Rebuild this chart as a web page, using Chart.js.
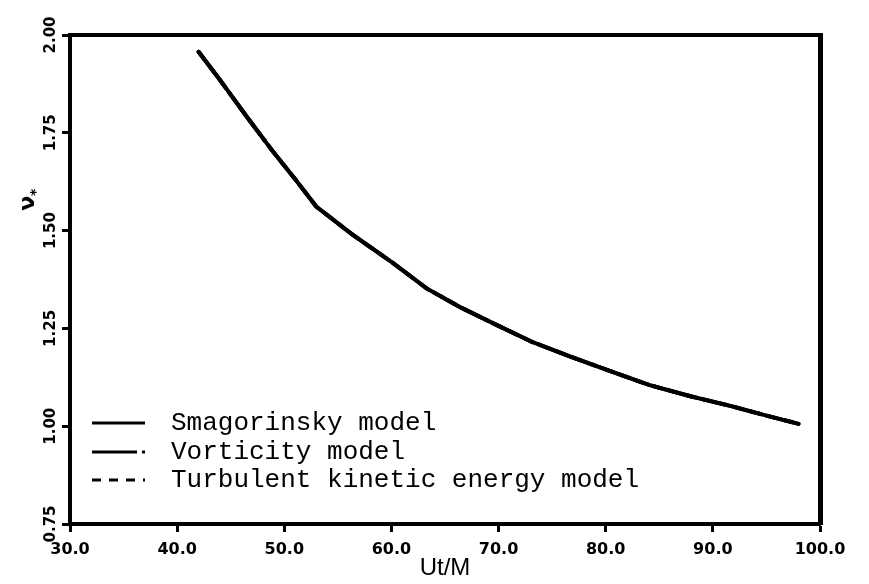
<!DOCTYPE html>
<html>
<head>
<meta charset="utf-8">
<script src="https://cdn.jsdelivr.net/npm/chart.js@4/dist/chart.umd.min.js"></script>
<style>
  html, body { margin: 0; padding: 0; background: #fff; }
  #wrap { width: 869px; height: 584px; }
</style>
</head>
<body>
<div id="wrap"><canvas id="c" width="869" height="584"></canvas></div>
<script>
// Eddy viscosity decay versus non-dimensional time Ut/M
const utM = [42.0, 44.0, 46.5, 49.0, 51.2, 53.0, 56.4, 60.0, 63.3, 66.5, 69.8, 73.0, 76.7, 80.5, 84.1, 88.0, 91.9, 95.0, 98.0];
const smagorinsky = [1.957, 1.885, 1.791, 1.700, 1.625, 1.561, 1.489, 1.420, 1.352, 1.303, 1.259, 1.217, 1.178, 1.140, 1.105, 1.076, 1.050, 1.027, 1.006];
const vorticity   = [1.957, 1.885, 1.791, 1.700, 1.625, 1.561, 1.489, 1.420, 1.352, 1.303, 1.259, 1.217, 1.178, 1.140, 1.105, 1.076, 1.050, 1.027, 1.006];
const turbulentKE = [1.957, 1.885, 1.791, 1.700, 1.625, 1.561, 1.489, 1.420, 1.352, 1.303, 1.259, 1.217, 1.178, 1.140, 1.105, 1.076, 1.050, 1.027, 1.006];
const seriesNames = ['Smagorinsky model', 'Vorticity model', 'Turbulent kinetic energy model'];
const xTicks = [30, 40, 50, 60, 70, 80, 90, 100];
const yTicks = [0.75, 1.00, 1.25, 1.50, 1.75, 2.00];

const pairs = (ys) => utM.map((x, i) => ({ x: x, y: ys[i] }));

const lineStyle = {
  borderColor: '#000',
  borderWidth: 4,
  pointRadius: 0,
  tension: 0,
  fill: false,
  borderCapStyle: 'round',
  borderJoinStyle: 'round'
};

// Legend drawn inside the lower-left corner of the plot box
const innerLegend = {
  id: 'innerLegend',
  afterDatasetsDraw(chart) {
    const { ctx, chartArea } = chart;
    const rows = [101, 72, 44];
    ctx.save();
    chart.data.datasets.forEach((ds, i) => {
      const y = chartArea.bottom - rows[i];
      const x0 = chartArea.left + 22;
      ctx.beginPath();
      ctx.setLineDash(ds.borderDash || []);
      ctx.lineWidth = 3;
      ctx.strokeStyle = '#000';
      ctx.moveTo(x0, y);
      ctx.lineTo(x0 + 53, y);
      ctx.stroke();
      ctx.setLineDash([]);
      ctx.fillStyle = '#000';
      ctx.font = '26px "Liberation Mono", monospace';
      ctx.textAlign = 'left';
      ctx.textBaseline = 'middle';
      ctx.fillText(ds.label, chartArea.left + 101, y);
    });
    ctx.restore();
  }
};

// Rotated y-axis symbol with subscript asterisk
const yAxisSymbol = {
  id: 'yAxisSymbol',
  afterDraw(chart) {
    const { ctx, chartArea } = chart;
    const ys = chart.scales.y;
    ctx.save();
    ctx.translate(chartArea.left - 42, ys.getPixelForValue(1.57));
    ctx.rotate(-Math.PI / 2);
    ctx.fillStyle = '#000';
    ctx.textAlign = 'center';
    ctx.textBaseline = 'middle';
    ctx.font = 'bold 22px "DejaVu Sans", sans-serif';
    ctx.fillText('ν', 0, 0);
    ctx.font = 'bold 14px "DejaVu Sans", sans-serif';
    ctx.fillText('*', 11, 8);
    ctx.restore();
  }
};

const tickFontY = { family: 'DejaVu Sans', size: 15, weight: 'bold' };
const tickFontX = { family: 'DejaVu Sans', size: 16, weight: 'bold' };

new Chart(document.getElementById('c'), {
  type: 'line',
  data: {
    datasets: [
      Object.assign({ label: seriesNames[0], data: pairs(smagorinsky), borderDash: [] }, lineStyle),
      Object.assign({ label: seriesNames[1], data: pairs(vorticity), borderDash: [45, 5, 3, 5] }, lineStyle),
      Object.assign({ label: seriesNames[2], data: pairs(turbulentKE), borderDash: [9, 8] }, lineStyle)
    ]
  },
  options: {
    responsive: false,
    animation: false,
    layout: { padding: 0 },
    plugins: { legend: { display: false }, tooltip: { enabled: false } },
    scales: {
      x: {
        type: 'linear', position: 'bottom',
        min: xTicks[0], max: xTicks[xTicks.length - 1],
        afterBuildTicks: (s) => { s.ticks = xTicks.map(v => ({ value: v })); },
        afterFit: (s) => { s.height = 60; },
        ticks: { color: '#000', font: tickFontX, padding: 8, maxRotation: 0, autoSkip: false,
                 callback: (v) => Number(v).toFixed(1) },
        grid: { display: true, drawOnChartArea: false, drawTicks: true, tickLength: 8, tickWidth: 3, tickColor: '#000' },
        border: { display: true, color: '#000', width: 4 },
        title: { display: true, text: 'Ut/M', color: '#000',
                 font: { family: 'Liberation Sans', size: 24 }, padding: { top: 0, bottom: 1 } }
      },
      x2: {
        type: 'linear', position: 'top',
        min: xTicks[0], max: xTicks[xTicks.length - 1],
        afterFit: (s) => { s.height = 35; },
        ticks: { display: false },
        grid: { display: false },
        border: { display: true, color: '#000', width: 4 }
      },
      y: {
        type: 'linear', position: 'left',
        min: yTicks[0], max: yTicks[yTicks.length - 1],
        afterBuildTicks: (s) => { s.ticks = yTicks.map(v => ({ value: v })); },
        afterFit: (s) => { s.width = 70; },
        ticks: { color: '#000', font: tickFontY, padding: -8, minRotation: 90, maxRotation: 90,
                 crossAlign: 'center', autoSkip: false,
                 callback: (v) => Number(v).toFixed(2) },
        grid: { display: true, drawOnChartArea: false, drawTicks: true, tickLength: 8, tickWidth: 3, tickColor: '#000' },
        border: { display: true, color: '#000', width: 4 }
      },
      y2: {
        type: 'linear', position: 'right',
        min: yTicks[0], max: yTicks[yTicks.length - 1],
        afterFit: (s) => { s.width = 49; },
        ticks: { display: false },
        grid: { display: false },
        border: { display: true, color: '#000', width: 5 }
      }
    }
  },
  plugins: [innerLegend, yAxisSymbol]
});
</script>
</body>
</html>
